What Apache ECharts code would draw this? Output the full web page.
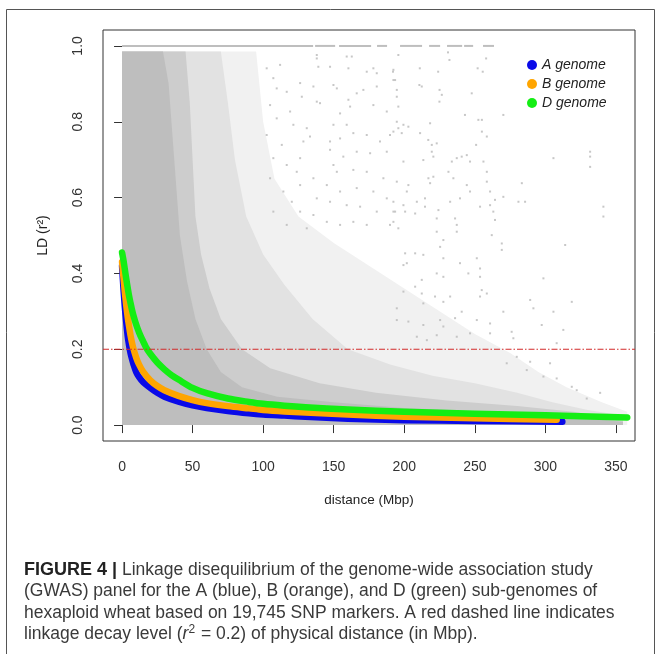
<!DOCTYPE html>
<html>
<head>
<meta charset="utf-8">
<script src="https://cdn.jsdelivr.net/npm/echarts@6/dist/echarts.min.js"></script>
<style>
  html, body { margin: 0; padding: 0; background: #ffffff; }
  #chart { width: 659px; height: 654px; }
</style>
</head>
<body>
<div id="chart"></div>
<script>
// ---------------- data ----------------
const xTicks = [0, 50, 100, 150, 200, 250, 300, 350];
const yTicks = [0, 0.2, 0.4, 0.6, 0.8, 1.0];
const seriesNames = ['A genome', 'B genome', 'D genome'];

// LD decay curves [distance (Mbp), r2]
const curveA = [[0,0.42],[0.5,0.39],[1,0.36],[1.5,0.335],[2,0.31],[3,0.27],[4,0.235],[5,0.21],[6,0.19],[7,0.175],[8,0.162],[10,0.14],[12,0.127],[15,0.113],[20,0.098],[25,0.085],[30,0.075],[40,0.062],[50,0.052],[60,0.045],[75,0.037],[90,0.031],[100,0.028],[115,0.025],[130,0.022],[160,0.017],[200,0.013],[250,0.011],[312,0.009]];
const curveB = [[0,0.43],[0.5,0.41],[1,0.39],[1.5,0.37],[2,0.35],[3,0.315],[4,0.285],[5,0.26],[6,0.237],[7,0.218],[8,0.202],[10,0.178],[12,0.16],[15,0.14],[20,0.118],[25,0.103],[30,0.092],[40,0.077],[50,0.066],[60,0.058],[75,0.05],[90,0.044],[100,0.04],[115,0.036],[130,0.033],[160,0.028],[200,0.022],[250,0.018],[308,0.014]];
const curveD = [[0,0.455],[0.5,0.445],[1,0.435],[2,0.41],[3,0.385],[4,0.362],[5,0.34],[6,0.322],[7,0.305],[8,0.29],[10,0.265],[12,0.245],[14,0.228],[17,0.205],[20,0.188],[25,0.165],[30,0.147],[35,0.132],[40,0.12],[50,0.098],[60,0.084],[75,0.07],[90,0.061],[100,0.056],[115,0.051],[130,0.047],[160,0.041],[200,0.035],[250,0.03],[300,0.026],[358,0.02]];

// upper envelopes of the grey pairwise-LD cloud at four densities [distance, r2]
const faintZone = [[0,0.985],[95,0.985],[100,0.8],[108,0.65],[125,0.55],[150,0.48],[175,0.42],[200,0.36],[225,0.3],[250,0.24],[275,0.19],[295,0.14],[315,0.1],[340,0.06],[358,0.035],[358,0]];
const lightZone = [[0,0.985],[70,0.985],[75,0.85],[80,0.7],[88,0.55],[100,0.45],[115,0.37],[135,0.28],[160,0.2],[190,0.16],[220,0.13],[250,0.11],[280,0.085],[305,0.06],[330,0.04],[355,0.025],[355,0]];
const denseZone = [[0,0.985],[45,0.985],[48,0.85],[50,0.7],[52,0.55],[56,0.45],[62,0.36],[70,0.28],[85,0.2],[105,0.15],[140,0.11],[180,0.085],[230,0.065],[280,0.05],[320,0.035],[345,0.02],[355,0.01],[355,0]];
const solidZone = [[0,0.985],[29,0.985],[33,0.9],[37,0.7],[41,0.5],[46,0.38],[52,0.28],[60,0.2],[70,0.14],[85,0.1],[110,0.075],[150,0.06],[200,0.045],[260,0.035],[310,0.025],[340,0.015],[355,0.008],[355,0]];

// runs of points sitting at r2 = 1.0 [from, to]
const topRow = [[0,135.4],[136.8,151],[153.8,176.5],[180.7,187.8],[197,212.6],[217.6,225.4],[230.3,241],[242.4,248.8],[255.8,263.6]];

// isolated grey points in the sparse part of the cloud [distance, r2]
const sparsePoints = [
[195.8,0.976],[231,0.983],[232,0.963],[258,0.967],[211,0.941],[224,0.932],[252,0.941],[255.6,0.932],[192,0.932],[193.5,0.91],
[210.7,0.897],[212.4,0.893],[225,0.884],[226.6,0.871],[224.9,0.853],[247.8,0.875],[194.7,0.884],[194.7,0.866],[195.8,0.84],[270.2,0.818],
[243,0.818],[252.5,0.805],[255,0.805],[194.7,0.8],[195.8,0.783],[199.4,0.792],[202.9,0.787],[192.3,0.774],[198.2,0.77],[218.3,0.796],
[255,0.774],[211.2,0.77],[258.5,0.761],[217,0.752],[219.5,0.739],[223,0.743],[250.9,0.739],[219.5,0.721],[220.6,0.708],[213.5,0.699],
[233.7,0.695],[237.2,0.704],[240.7,0.708],[244.3,0.712],[246.6,0.695],[256.1,0.695],[258.5,0.668],[199.4,0.695],[231.3,0.668],[234.8,0.651],
[217.1,0.651],[220.6,0.655],[331.7,0.721],[331.7,0.708],[331.7,0.681],[305.7,0.704],[280.9,0.589],[285.6,0.589],[283.3,0.638],[264.3,0.594],
[270.2,0.602],[244.3,0.633],[246.6,0.616],[258.5,0.642],[260.8,0.616],[263.1,0.563],[264.3,0.541],[260.8,0.58],[253.7,0.576],[239.5,0.598],
[232.5,0.589],[236,0.545],[237.2,0.528],[224.2,0.567],[223,0.545],[218.3,0.638],[202.9,0.633],[201.8,0.616],[194.7,0.642],[208.9,0.589],
[214.7,0.598],[214.7,0.576],[199.4,0.58],[200.6,0.563],[207.7,0.558],[341.1,0.576],[341.1,0.55],[192.3,0.589],[193.5,0.563],[192.3,0.536],
[195.8,0.519],[223,0.51],[227.7,0.488],[225.4,0.47],[237.2,0.51],[262,0.501],[269.1,0.479],[269.1,0.462],[314,0.475],[200.6,0.453],
[207.7,0.453],[213.5,0.449],[227.7,0.44],[251.4,0.44],[239.5,0.427],[199.4,0.422],[201.8,0.427],[212.4,0.383],[223,0.4],[253.7,0.413],
[253.7,0.391],[298.6,0.387],[227.7,0.391],[245.4,0.4],[207.7,0.365],[199.4,0.352],[212.4,0.347],[221.8,0.339],[232.5,0.339],[254.9,0.356],
[253.7,0.339],[258.5,0.347],[289.2,0.33],[318.7,0.325],[227.7,0.325],[213.5,0.321],[194.7,0.308],[240.7,0.299],[270.2,0.299],[305.7,0.299],
[291.5,0.308],[194.7,0.277],[202.9,0.273],[225.4,0.277],[236,0.282],[251.4,0.277],[260.8,0.268],[227.7,0.26],[213.5,0.264],[297.4,0.264],
[312.7,0.251],[276.1,0.246],[277.3,0.229],[260.8,0.242],[246.6,0.242],[237.2,0.233],[223,0.237],[216,0.224],[308,0.216],[208.9,0.233],
[289.2,0.167],[286.8,0.145],[298.6,0.128],[318.7,0.101],[338.8,0.085],[329.3,0.07],[308,0.123],[279.7,0.18],[272.6,0.163],[303.3,0.163],[322.2,0.092],
[138,0.976],[138,0.967],[139.1,0.945],[147.4,0.945],[159.2,0.972],[162.8,0.972],[149.8,0.897],[152.2,0.888],[160.4,0.941],[173.4,0.932],
[178.1,0.941],[180.5,0.928],[192.3,0.937],[192.3,0.91],[126.2,0.902],[127.4,0.866],[135.6,0.893],[138,0.853],[140.3,0.849],[160.4,0.858],
[161.6,0.84],[166.3,0.875],[171,0.884],[180.5,0.893],[178.1,0.844],[187.6,0.827],[154.5,0.822],[149.8,0.792],[159.2,0.792],[163.9,0.77],
[130.9,0.783],[133.2,0.761],[128.5,0.748],[147.4,0.748],[154.5,0.756],[173.4,0.765],[182.8,0.748],[189.9,0.765],[147.4,0.726],[156.8,0.708],
[166.3,0.721],[175.8,0.717],[187.6,0.721],[149.8,0.686],[152.2,0.668],[163.9,0.673],[173.4,0.668],[185.2,0.651],[135.6,0.651],[126.2,0.633],
[145.1,0.633],[154.5,0.616],[166.3,0.625],[178.1,0.616],[187.6,0.598],[138,0.598],[147.4,0.589],[159.2,0.58],[168.7,0.576],[180.5,0.563],
[126.2,0.563],[135.6,0.554],[145.1,0.536],[154.5,0.528],[163.9,0.536],[173.4,0.528],[189.9,0.528],[130.9,0.519],[192.3,0.563],
[102.5,0.941],[107.2,0.915],[112,0.95],[116.7,0.879],[104.9,0.844],[109.6,0.809],[119.1,0.827],[102.5,0.765],[113.2,0.739],[121.4,0.792],
[107.2,0.704],[116.7,0.686],[123.8,0.668],[104.9,0.651],[114.3,0.616],[120.3,0.589],[107.2,0.563],[116.7,0.528],[126.2,0.704],[109.6,0.888]
];

const decayThreshold = 0.2;
const xRange = [-13.5, 363.5];
const yRange = [-0.042, 1.042];

// ---------------- chart ----------------
const FONT = '"Liberation Sans", Arial, sans-serif';
const chart = echarts.init(document.getElementById('chart'), null, { renderer: 'canvas' });

function zoneSeries(data, color) {
  return {
    type: 'line', data: data, symbol: 'none', silent: true,
    lineStyle: { width: 0, color: color }, itemStyle: { color: color },
    areaStyle: { color: color, opacity: 1, origin: 0 },
    animation: false
  };
}
function curveSeries(name, data, color) {
  return {
    name: name, type: 'line', data: data, symbol: 'none', smooth: 0.3,
    lineStyle: { width: 6.5, color: color, cap: 'round', join: 'round' },
    itemStyle: { color: color }, z: 5, animation: false
  };
}

const CAP = 17.5;
const option = {
  animation: false,
  backgroundColor: '#ffffff',
  graphic: [{
    type: 'rect', silent: true,
    shape: { x: 6.5, y: 9.5, width: 648, height: 700 },
    style: { fill: 'none', stroke: '#555555', lineWidth: 1 }
  }],
  title: {
    left: 24, top: 559, padding: 0,
    text: '{b|FIGURE 4 |}{n| Linkage disequilibrium of the genome-wide association study}\n' +
          '{n|(GWAS) panel for the A (blue), B (orange), and D (green) sub-genomes of}\n' +
          '{n|hexaploid wheat based on 19,745 SNP markers. A red dashed line indicates}\n' +
          '{n|linkage decay level (}{i|r}{s|2}{n| = 0.2) of physical distance (in Mbp).}',
    textStyle: {
      fontFamily: FONT, fontSize: CAP, lineHeight: 21.5, color: '#3a3a3a', fontWeight: 'normal',
      rich: {
        b: { fontFamily: FONT, fontSize: 18, lineHeight: 21.5, fontWeight: 'bold', color: '#222222' },
        n: { fontFamily: FONT, fontSize: CAP, lineHeight: 21.5, fontWeight: 'normal', color: '#3a3a3a' },
        i: { fontFamily: FONT, fontSize: CAP, lineHeight: 21.5, fontStyle: 'italic', color: '#3a3a3a' },
        s: { fontFamily: FONT, fontSize: 12, lineHeight: 21.5, verticalAlign: 'top', color: '#3a3a3a', padding: [0, 1, 0, 0] }
      }
    }
  },
  legend: {
    data: seriesNames,
    orient: 'vertical', left: 522, top: 53, itemGap: 5,
    icon: 'circle', itemWidth: 10, itemHeight: 10,
    textStyle: { fontFamily: FONT, fontSize: 14, fontStyle: 'italic', color: '#222222' },
    selectedMode: false
  },
  grid: {
    left: 103, right: 24, top: 30, bottom: 213,
    show: true, borderColor: '#333333', borderWidth: 1, backgroundColor: 'transparent'
  },
  xAxis: {
    type: 'value', min: xRange[0], max: xRange[1],
    name: 'distance (Mbp)', nameLocation: 'middle', nameGap: 52,
    nameTextStyle: { fontFamily: FONT, fontSize: 13.5, color: '#222222' },
    axisLine: { show: false },
    axisTick: { show: true, length: 8, customValues: xTicks, lineStyle: { color: '#333333' } },
    axisLabel: { customValues: xTicks, margin: 19, fontFamily: FONT, fontSize: 14, color: '#333333' },
    splitLine: { show: false }
  },
  yAxis: {
    type: 'value', min: yRange[0], max: yRange[1],
    name: 'LD (r²)', nameLocation: 'middle', nameGap: 53,
    nameTextStyle: { fontFamily: FONT, fontSize: 14, color: '#222222' },
    axisLine: { show: false },
    axisTick: { show: true, length: 8, customValues: yTicks, lineStyle: { color: '#333333' } },
    axisLabel: { customValues: yTicks, rotate: 90, margin: 18, fontFamily: FONT, fontSize: 14, color: '#333333',
                 formatter: v => v.toFixed(1) },
    splitLine: { show: false }
  },
  series: [
    zoneSeries(faintZone, '#f1f1f1'),
    zoneSeries(lightZone, '#e2e2e2'),
    zoneSeries(denseZone, '#cdcdcd'),
    zoneSeries(solidZone, '#bebebe'),
    {
      type: 'scatter', data: sparsePoints, symbol: 'rect', symbolSize: 2, silent: true,
      itemStyle: { color: '#b9b9b9' }, z: 3, animation: false
    },
    {
      type: 'custom', data: topRow, silent: true, z: 3,
      encode: { x: [0, 1] },
      renderItem: function (params, api) {
        const p1 = api.coord([api.value(0), 1]);
        const p2 = api.coord([api.value(1), 1]);
        return { type: 'line', shape: { x1: p1[0], y1: p1[1], x2: p2[0], y2: p2[1] },
                 style: { stroke: '#bebebe', lineWidth: 2 } };
      }
    },
    curveSeries(seriesNames[0], curveA, '#0a0ae8'),
    curveSeries(seriesNames[1], curveB, '#ffa500'),
    curveSeries(seriesNames[2], curveD, '#14ee14'),
    {
      type: 'line', silent: true, z: 6, symbol: 'none', animation: false,
      data: [[xRange[0], decayThreshold], [xRange[1], decayThreshold]],
      itemStyle: { color: '#d22b2b' },
      lineStyle: { color: '#d22b2b', width: 1.2, type: [6, 2, 1.5, 2] }
    }
  ]
};
chart.setOption(option);
</script>
</body>
</html>
